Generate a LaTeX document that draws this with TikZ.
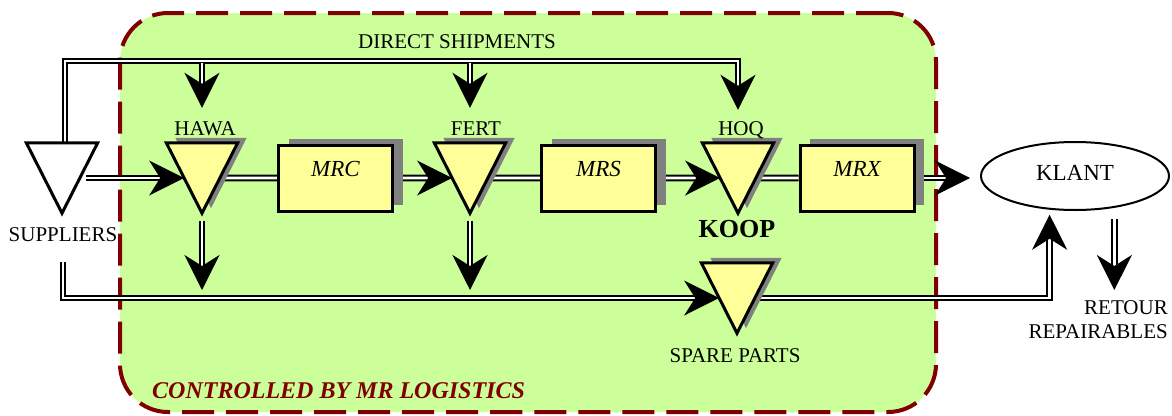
\documentclass[tikz,border=0pt]{standalone}
\usepackage{fontspec}
\setmainfont{Liberation Serif}
\usetikzlibrary{arrows.meta,calc,shadows,shapes.geometric}
\definecolor{panelgreen}{HTML}{CCFF99}
\definecolor{stockyellow}{HTML}{FFFF99}
\definecolor{shadegray}{HTML}{808080}
\definecolor{mrred}{HTML}{800000}
\pgfdeclarelayer{panel}
\pgfdeclarelayer{lines}
\pgfsetlayers{panel,lines,main}
\tikzset{
  txt/.style={inner sep=0pt, font=\fontsize{21}{24}\selectfont},
  stock/.style={minimum width=71pt, minimum height=70pt, inner sep=0pt},
  stockshape/.style={line width=3pt, line join=miter},
  process/.style={draw, line width=3pt, fill=stockyellow,
    minimum width=114pt, minimum height=66pt, inner sep=0pt,
    font=\fontsize{23}{26}\selectfont\itshape, text height=16pt, text depth=20pt,
    general shadow={fill=shadegray, shadow xshift=10pt, shadow yshift=6pt}},
  flow/.style={draw=black, line width=2pt, double=white, double distance=2.8pt},
  flowarrow/.style={flow, -{Stealth[length=35pt, width=35pt, inset=11pt]}},
  mrpanel/.style={draw=mrred, fill=panelgreen, line width=4pt,
    dash pattern=on 32pt off 12pt, rounded corners=48pt,
    minimum width=816pt, minimum height=399pt, inner sep=0pt},
}
\begin{document}
\begin{tikzpicture}[x=1pt,y=-1pt]
\useasboundingbox (0,0) rectangle (1172,415);

% area controlled by MR logistics
\begin{pgfonlayer}{panel}
\node[mrpanel] (mr) at (528,212.5) {};
\end{pgfonlayer}
\node[anchor=base west, inner sep=0pt, text=mrred,
  font=\fontsize{24}{28}\selectfont\bfseries\itshape] (mrlabel) at (152,398)
  {CONTROLLED BY MR LOGISTICS};

% stock points: frames first, triangles drawn onto them
\node[stock] (sup) at (62,178) {};
\node[stock] (hawa) at (202,178) {};
\node[stock] (fert) at (470,178) {};
\node[stock] (hoq) at (738,178) {};
\node[stock] (spare) at (737,298) {};
\foreach \n in {sup,hawa,fert,hoq,spare}{
  \coordinate (\n-l) at ($(\n.north west)!0.5!(\n.south)$);
  \coordinate (\n-r) at ($(\n.north east)!0.5!(\n.south)$);
}
\foreach \n in {hawa,fert,hoq,spare}{
  \fill[shadegray] ([shift={(9,-5)}]\n.north west) -- ([shift={(9,-5)}]\n.north east)
    -- ([shift={(9,-5)}]\n.south) -- cycle;
}
\foreach \n/\c in {sup/white,hawa/stockyellow,fert/stockyellow,hoq/stockyellow,spare/stockyellow}{
  \filldraw[stockshape, fill=\c] (\n.north west) -- (\n.north east) -- (\n.south) -- cycle;
}

% processes and customer
\node[process] (mrc) at (335.5,178) {MRC};
\node[process] (mrs) at (598.5,178) {MRS};
\node[process] (mrx) at (857,178) {MRX};
\node[draw, ellipse, line width=2pt, fill=white, minimum width=188pt, minimum height=68pt,
  inner sep=0pt, font=\fontsize{23}{26}\selectfont, text height=16pt, text depth=8pt]
  (klant) at (1075,176) {KLANT};

% labels
\node[txt, anchor=base] (dslabel) at (457,48) {DIRECT SHIPMENTS};
\node[txt, anchor=base] (hawalabel) at (205,135) {HAWA};
\node[txt, anchor=base] (fertlabel) at (476,135) {FERT};
\node[txt, anchor=base] (hoqlabel) at (741,135) {HOQ};
\node[txt, anchor=base] (suplabel) at (63,241) {SUPPLIERS};
\node[txt, anchor=base] (sparelabel) at (735,362) {SPARE PARTS};
\node[anchor=base, inner sep=0pt, font=\fontsize{26}{30}\selectfont\bfseries] (koop) at (737,237) {KOOP};
\node[txt, anchor=north east, align=right] (retour) at (1168,300) {RETOUR\\REPAIRABLES};

% goods flows
\begin{pgfonlayer}{lines}
\coordinate (rail-top) at (65,61);
\coordinate (rail-low) at (63,298);
\coordinate (hawa-in) at ([yshift=35pt]hawa.north);
\coordinate (fert-in) at ([yshift=35pt]fert.north);
\coordinate (hoq-in) at ([yshift=33pt]hoq.north);

% direct shipments
\draw[flowarrow] ([xshift=3pt]sup.north) |- (rail-top -| hoq-in) -- (hoq-in);
\draw[flowarrow] ($(rail-top -| hawa-in)+(0,2)$) -- (hawa-in);
\draw[flowarrow] ($(rail-top -| fert-in)+(0,2)$) -- (fert-in);

% main chain
\draw[flowarrow] ([xshift=6pt]sup-r) -- (hawa-l);
\draw[flow] (hawa-r) -- (mrc.west);
\draw[flowarrow] (mrc.east) -- (fert-l);
\draw[flow] (fert-r) -- (mrs.west);
\draw[flowarrow] (mrs.east) -- (hoq-l);
\draw[flow] (hoq-r) -- (mrx.west);
\draw[flowarrow, shorten >=10pt] (mrx.east) -- (mrx.east -| klant.west);

% spare parts supply
\draw[flowarrow] ([yshift=-8pt]hawa.south) -- ($(hawa.south |- rail-low)+(0,-8)$);
\draw[flowarrow] ([yshift=-8pt]fert.south) -- ($(fert.south |- rail-low)+(0,-8)$);
\draw[flowarrow] ([yshift=-21pt]suplabel.south) |- (spare-l);
\draw[flowarrow, shorten >=5pt] (spare-r) -| (klant.233);

% returns
\draw[flowarrow] ([yshift=-11pt]klant.321) -- ($(klant.321 |- retour.north)+(0,-10)$);
\end{pgfonlayer}
\end{tikzpicture}
\end{document}
